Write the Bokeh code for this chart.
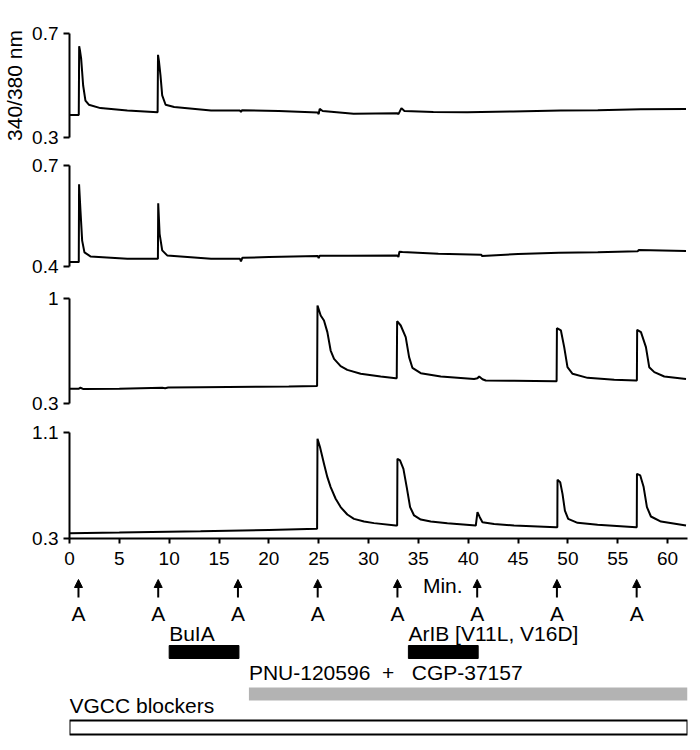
from bokeh.plotting import figure
from bokeh.layouts import column
from bokeh.models import Range1d, FixedTicker, ColumnDataSource, Arrow, NormalHead
from bokeh.core.properties import value
from bokeh.embed import file_html
from bokeh.resources import INLINE

FONT = "Liberation Sans"
NB = "\u00a0"

# ---------------- data ----------------
t1 = [0, 0.93, 0.97, 1.05, 1.17, 1.37, 1.6, 1.94, 3.1, 5.8, 8.84, 8.88, 8.97, 9.13, 9.3, 9.64,
      10.5, 14.2, 17.1, 17.2, 17.3, 21.0, 24.9, 25.0, 25.1, 25.4, 28.5, 32.9, 33.0, 33.3, 33.6,
      36.5, 39.9, 44.5, 49.3, 53.0, 57.3, 61.85]
v1 = [0.387, 0.387, 0.651, 0.635, 0.603, 0.50, 0.442, 0.426, 0.413, 0.404, 0.397, 0.618, 0.595,
      0.538, 0.462, 0.426, 0.417, 0.404, 0.404, 0.398, 0.405, 0.402, 0.396, 0.39, 0.41, 0.402,
      0.391, 0.393, 0.39, 0.413, 0.402, 0.398, 0.397, 0.40, 0.404, 0.405, 0.409, 0.41]

t2 = [0, 0.93, 0.96, 1.1, 1.27, 1.5, 2.1, 5.8, 8.87, 8.9, 9.04, 9.3, 9.8, 14.2, 17.1, 17.2, 17.35,
      20.0, 24.9, 25.0, 25.1, 28.0, 32.9, 33.0, 33.1, 33.4, 37.0, 41.3, 41.4, 45.0, 49.1, 53.0,
      57.0, 57.1, 61.85]
v2 = [0.413, 0.413, 0.644, 0.566, 0.477, 0.442, 0.43, 0.423, 0.423, 0.588, 0.497, 0.448, 0.433,
      0.423, 0.423, 0.415, 0.426, 0.428, 0.431, 0.425, 0.432, 0.432, 0.433, 0.428, 0.444, 0.443,
      0.438, 0.435, 0.431, 0.437, 0.441, 0.442, 0.445, 0.449, 0.446]

t3 = [0, 0.9, 1.1, 1.4, 5.0, 9.3, 9.6, 9.9, 13.15, 19.0, 22.0, 24.84, 24.88, 25.2, 25.53, 25.87,
      26.2, 26.54, 27.2, 27.87, 29.21, 31.22, 32.73, 32.83, 32.87, 33.23, 33.73, 34.07, 34.4,
      35.24, 37.25, 40.59, 40.93, 41.1, 41.43, 41.76, 44.6, 48.79, 48.87, 48.9, 49.3, 49.63,
      49.96, 50.47, 51.97, 54.65, 56.83, 56.92, 56.95, 57.33, 57.83, 58.16, 58.67, 59.67, 61.85]
v3 = [0.398, 0.398, 0.405, 0.396, 0.399, 0.405, 0.402, 0.406, 0.409, 0.412, 0.413, 0.416, 0.953,
      0.887, 0.853, 0.776, 0.653, 0.598, 0.549, 0.524, 0.498, 0.48, 0.469, 0.469, 0.849, 0.82,
      0.742, 0.609, 0.538, 0.502, 0.48, 0.464, 0.468, 0.48, 0.462, 0.453, 0.452, 0.449, 0.449,
      0.802, 0.787, 0.676, 0.542, 0.498, 0.471, 0.458, 0.453, 0.453, 0.791, 0.776, 0.676, 0.542,
      0.509, 0.48, 0.464]

t4 = [0, 5.0, 13.15, 20.0, 24.84, 24.88, 25.13, 25.53, 25.87, 26.2, 26.7, 27.2, 27.87, 28.54,
      29.55, 30.55, 32.73, 32.87, 32.9, 33.16, 33.5, 33.83, 34.17, 34.57, 35.24, 36.24, 37.91,
      40.76, 40.93, 41.16, 41.43, 42.6, 44.6, 48.79, 48.94, 48.96, 49.23, 49.46, 49.7, 50.03,
      50.97, 52.98, 56.83, 56.91, 56.93, 57.26, 57.6, 57.93, 58.33, 59.34, 61.85]
v4 = [0.34, 0.345, 0.355, 0.365, 0.373, 1.052, 0.99, 0.864, 0.763, 0.688, 0.6, 0.537, 0.481,
      0.448, 0.428, 0.416, 0.398, 0.398, 0.901, 0.889, 0.826, 0.688, 0.537, 0.474, 0.443, 0.428,
      0.416, 0.398, 0.499, 0.461, 0.423, 0.41, 0.398, 0.385, 0.385, 0.743, 0.725, 0.637, 0.511,
      0.448, 0.418, 0.403, 0.385, 0.385, 0.788, 0.776, 0.688, 0.537, 0.466, 0.428, 0.398]

panel_ranges = [(0.3, 0.7), (0.4, 0.7), (0.3, 1.0), (0.3, 1.1)]
panel_tick_labels = [["0.3", "0.7"], ["0.4", "0.7"], ["0.3", "1"], ["0.3", "1.1"]]
y_label = "340/380 nm"

x_max = 62
x_ticks = [0, 5, 10, 15, 20, 25, 30, 35, 40, 45, 50, 55, 60]
x_unit = "Min."
x_unit_pos = 37.45

agonist_times = [0.9, 8.9, 16.9, 24.9, 32.9, 40.9, 48.9, 56.9]
agonist_label = "A"

toxin_names = ["BuIA", "ArIB [V11L, V16D]"]
toxin_start = [10, 34]
toxin_end = [17, 41]

pnu_label = "PNU-120596" + NB * 2 + "+" + NB * 3 + "CGP-37157"
pnu_start = [18]
pnu_end = [62]

vgcc_label = "VGCC blockers"
vgcc_start = [0]
vgcc_end = [62]

# ---------------- layout ----------------
LEFT = 69
RIGHT = 5
W = LEFT + 618 + RIGHT
heights = [151, 131, 135, 158]
tops = [33, 14, 16, 15]
bottoms = [14, 16, 14, 37]
traces = [(t1, v1), (t2, v2), (t3, v3), (t4, v4)]
TICK_FS = "19px"
LABEL_FS = "21px"

figs = []
for i in range(4):
    lo, hi = panel_ranges[i]
    last = (i == 3)
    p = figure(width=W, height=heights[i], x_range=Range1d(0, x_max), y_range=Range1d(lo, hi),
               output_backend="svg", toolbar_location=None, title_location=None,
               x_axis_type="linear" if last else None,
               min_border_left=LEFT, min_border_right=RIGHT,
               min_border_top=tops[i], min_border_bottom=bottoms[i])
    p.outline_line_color = None
    p.grid.visible = False
    p.background_fill_color = "white"
    p.border_fill_color = "white"

    ya = p.yaxis[0]
    ya.ticker = FixedTicker(ticks=[lo, hi])
    ya.bounds = (lo, hi)
    ya.major_label_overrides = {lo: panel_tick_labels[i][0], hi: panel_tick_labels[i][1]}
    ya.major_tick_in = 0
    ya.major_tick_out = 6
    ya.minor_tick_line_color = None
    ya.axis_line_width = 2
    ya.major_tick_line_width = 2
    ya.major_label_text_font = FONT
    ya.major_label_text_font_size = TICK_FS
    ya.major_label_text_color = "black"
    ya.major_label_standoff = 5
    if i == 0:
        ya.axis_label = y_label
        ya.axis_label_text_font = FONT
        ya.axis_label_text_font_size = LABEL_FS
        ya.axis_label_text_font_style = "normal"
        ya.axis_label_text_color = "black"
        ya.axis_label_standoff = 3

    if last:
        xa = p.xaxis[0]
        xa.ticker = FixedTicker(ticks=x_ticks)
        xa.bounds = (0, x_max)
        xa.major_tick_in = 0
        xa.major_tick_out = 5
        xa.minor_tick_line_color = None
        xa.axis_line_width = 2
        xa.major_tick_line_width = 2
        xa.major_label_text_font = FONT
        xa.major_label_text_font_size = TICK_FS
        xa.major_label_text_color = "black"
        xa.major_label_standoff = 8

    t, v = traces[i]
    p.line(t, v, line_color="black", line_width=2)
    figs.append(p)

# annotation strip below the time axis (y measured downward in pixels from its top)
ann = figure(width=W, height=165, x_range=Range1d(0, x_max), y_range=Range1d(165, 0),
             output_backend="svg", toolbar_location=None, title_location=None,
             x_axis_type=None, y_axis_type=None,
             min_border_left=LEFT, min_border_right=RIGHT,
             min_border_top=0, min_border_bottom=0)
ann.outline_line_color = None
ann.grid.visible = False
ann.background_fill_color = "white"
ann.border_fill_color = "white"

n = len(agonist_times)
arr_src = ColumnDataSource(dict(x=agonist_times, ys=[22] * n, ye=[4] * n))
ann.add_layout(Arrow(end=NormalHead(size=8, fill_color="black", line_color="black", line_width=1),
                     x_start="x", y_start="ys", x_end="x", y_end="ye",
                     source=arr_src, line_width=2, line_color="black"))
ann.text(x=agonist_times, y=[38] * n, text=[agonist_label] * n, text_font=value(FONT),
         text_font_size=LABEL_FS, text_align="center", text_baseline="middle", text_color="black")
ann.text(x=[x_unit_pos], y=[10], text=[x_unit], text_font=value(FONT), text_font_size=LABEL_FS,
         text_align="center", text_baseline="middle", text_color="black")

m = len(toxin_names)
ann.text(x=toxin_start, y=[58] * m, text=toxin_names, text_font=value(FONT), text_font_size=LABEL_FS,
         text_align="left", text_baseline="middle", text_color="black")
ann.quad(left=toxin_start, right=toxin_end, top=[70] * m, bottom=[83] * m,
         fill_color="black", line_color="black", line_width=1)

ann.text(x=pnu_start, y=[97], text=[pnu_label], text_font=value(FONT), text_font_size=LABEL_FS,
         text_align="left", text_baseline="middle", text_color="black")
ann.quad(left=pnu_start, right=pnu_end, top=[112], bottom=[125],
         fill_color="#b3b3b3", line_color=None)

ann.text(x=vgcc_start, y=[130], text=[vgcc_label], text_font=value(FONT), text_font_size=LABEL_FS,
         text_align="left", text_baseline="middle", text_color="black")
ann.quad(left=vgcc_start, right=vgcc_end, top=[145], bottom=[159],
         fill_color="white", line_color="black", line_width=2)

layout = column(*figs, ann, spacing=0)
open("out.html", "w").write(file_html(layout, INLINE))
